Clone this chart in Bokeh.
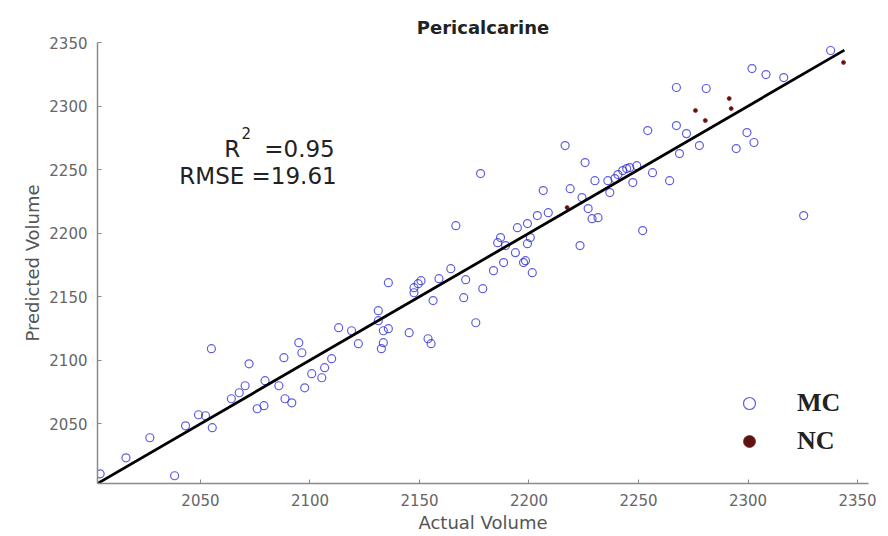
from bokeh.plotting import figure
from bokeh.models import Label, Legend, LegendItem, FixedTicker
from bokeh.embed import file_html
from bokeh.resources import INLINE

# Pericalcarine volume: actual vs. predicted
mc_actual = [2004.2, 2016.0, 2026.9, 2038.2, 2043.2, 2049.1, 2052.3, 2055.4, 2055.0, 2064.1,
             2067.7, 2070.4, 2072.2, 2075.9, 2079.0, 2079.5, 2085.8, 2088.6, 2091.7, 2088.1,
             2094.9, 2096.3, 2097.6, 2100.8, 2105.4, 2106.7, 2109.9, 2113.1, 2119.0, 2122.1,
             2131.2, 2131.2, 2133.5, 2135.8, 2133.5, 2132.6, 2135.8, 2145.3, 2147.5, 2149.4,
             2147.5, 2150.7, 2153.9, 2155.3, 2156.2, 2158.9, 2164.3, 2166.6, 2170.2, 2171.1,
             2175.7, 2177.9, 2178.9, 2183.8, 2185.7, 2187.0, 2189.3, 2188.4, 2193.8, 2194.7,
             2197.5, 2199.3, 2199.3, 2198.4, 2201.5, 2200.6, 2203.8, 2206.5, 2208.8, 2216.5,
             2218.8, 2223.3, 2224.2, 2225.6, 2227.0, 2228.8, 2230.1, 2231.5, 2236.0, 2236.9,
             2239.2, 2240.6, 2242.8, 2244.6, 2246.0, 2247.4, 2249.2, 2251.9, 2254.2, 2256.4,
             2264.2, 2267.3, 2267.3, 2268.7, 2271.9, 2277.8, 2280.9, 2294.6, 2299.5, 2302.7,
             2301.8, 2308.2, 2316.3, 2325.4, 2337.7]
mc_predicted = [2010.6, 2023.2, 2039.0, 2009.1, 2048.4, 2057.1, 2056.3, 2046.9, 2109.1, 2069.7,
                2074.4, 2079.9, 2097.2, 2061.8, 2064.2, 2083.9, 2079.9, 2069.7, 2066.5, 2102.0,
                2113.8, 2105.9, 2078.3, 2089.4, 2086.2, 2094.1, 2101.2, 2125.6, 2123.2, 2113.0,
                2139.0, 2131.1, 2123.2, 2124.8, 2113.8, 2109.1, 2161.0, 2121.7, 2157.1, 2160.2,
                2153.1, 2162.6, 2116.9, 2113.0, 2146.9, 2164.2, 2172.0, 2205.9, 2149.2, 2163.4,
                2129.5, 2246.9, 2156.3, 2170.5, 2192.5, 2196.5, 2190.2, 2176.8, 2184.6, 2204.3,
                2176.8, 2191.7, 2207.5, 2178.3, 2168.9, 2196.5, 2213.8, 2233.5, 2216.1, 2268.9,
                2235.0, 2190.2, 2228.0, 2255.5, 2219.3, 2211.4, 2241.3, 2212.2, 2241.3, 2231.9,
                2242.9, 2246.1, 2249.2, 2250.8, 2251.6, 2239.8, 2253.1, 2202.0, 2280.7, 2247.6,
                2241.3, 2314.6, 2284.6, 2262.6, 2278.3, 2268.9, 2313.8, 2266.5, 2279.1, 2271.3,
                2329.5, 2324.8, 2322.4, 2213.8, 2343.7]

nc_actual = [2217.4, 2276.0, 2280.5, 2291.4, 2292.3, 2343.6]
nc_predicted = [2220.1, 2296.5, 2288.6, 2305.9, 2298.0, 2334.3]

fit_x = [2003.0, 2344.0]
fit_y = [2003.0, 2344.0]

tick_values = [2050, 2100, 2150, 2200, 2250, 2300, 2350]

r2_text = "=0.95"
rmse_text = "RMSE =19.61"

FONT = "DejaVu Sans"
AXIS_GREY = "#8a8a8a"

p = figure(width=888, height=536, output_backend="svg", toolbar_location=None,
           x_range=(2003, 2355), y_range=(2003, 2350),
           min_border_left=97, min_border_right=20, min_border_top=42, min_border_bottom=53,
           title="Pericalcarine")
p.background_fill_color = "white"
p.border_fill_color = "white"
p.outline_line_color = None
p.grid.visible = False

p.title.align = "center"
p.title.text_font = FONT
p.title.text_font_style = "bold"
p.title.text_font_size = "18px"
p.title.text_color = "#222222"

for ax in (p.xaxis[0], p.yaxis[0]):
    ax.ticker = FixedTicker(ticks=tick_values)
    ax.axis_line_color = AXIS_GREY
    ax.axis_line_width = 1.5
    ax.major_tick_line_color = AXIS_GREY
    ax.major_tick_in = 4
    ax.major_tick_out = 0
    ax.minor_tick_line_color = None
    ax.major_label_text_font = FONT
    ax.major_label_text_font_size = "15px"
    ax.major_label_text_color = "#666666"
    ax.axis_label_text_font = FONT
    ax.axis_label_text_font_size = "18px"
    ax.axis_label_text_font_style = "normal"
    ax.axis_label_text_color = "#555555"

p.xaxis.axis_label = "Actual Volume"
p.yaxis.axis_label = "Predicted Volume"
p.xaxis.major_label_standoff = 10
p.yaxis.major_label_standoff = 10
p.xaxis.axis_label_standoff = 3
p.yaxis.axis_label_standoff = 3

mc = p.scatter(mc_actual, mc_predicted, marker="circle", size=8,
               fill_color=None, line_color="#2a2ad0", line_alpha=0.75, line_width=1.2)
nc = p.scatter(nc_actual, nc_predicted, marker="circle", size=4,
               fill_color="#5a1414", line_color="#8b2222", line_width=0.8)

p.line(fit_x, fit_y, line_color="black", line_width=2.8)

# fit statistics
p.add_layout(Label(x=2060.9, y=2266.5, text="R", text_font=FONT, text_font_size="23px",
                   text_color="#222222", text_baseline="middle", text_align="left"))
p.add_layout(Label(x=2068.8, y=2279, text="2", text_font=FONT, text_font_size="15px",
                   text_color="#222222", text_baseline="middle", text_align="left"))
p.add_layout(Label(x=2111.3, y=2266.5, text=r2_text, text_font=FONT, text_font_size="23px",
                   text_color="#222222", text_baseline="middle", text_align="right"))
p.add_layout(Label(x=2112.2, y=2245.3, text=rmse_text, text_font=FONT, text_font_size="23px",
                   text_color="#222222", text_baseline="middle", text_align="right"))

legend = Legend(items=[LegendItem(label="MC", renderers=[mc]),
                       LegendItem(label="NC", renderers=[nc])],
                location=(637, 27), orientation="vertical",
                glyph_width=30, glyph_height=30, spacing=8, padding=0, margin=0,
                label_standoff=33, border_line_alpha=0, background_fill_alpha=0,
                label_text_font="Liberation Serif", label_text_font_style="bold",
                label_text_font_size="26px", label_text_color="#222222")
p.add_layout(legend)

open("out.html", "w").write(file_html(p, INLINE))
